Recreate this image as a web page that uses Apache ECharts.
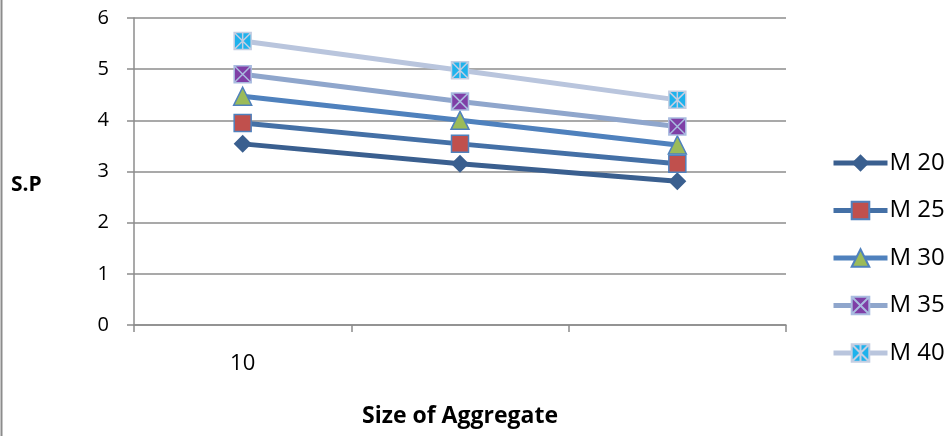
<!DOCTYPE html>
<html>
<head>
<meta charset="utf-8">
<script src="https://cdn.jsdelivr.net/npm/echarts@6/dist/echarts.min.js"></script>
<style>
  html, body { margin: 0; padding: 0; background: #fff; }
  #chart { width: 947px; height: 436px; }
</style>
</head>
<body>
<div id="chart"></div>
<script>
// Aggregate size categories (only the first one carries a label)
const categories = ['10', '', ''];
const seriesNames = ['M 20', 'M 25', 'M 30', 'M 35', 'M 40'];
const m20 = [3.54, 3.15, 2.81];
const m25 = [3.95, 3.54, 3.15];
const m30 = [4.47, 4.00, 3.52];
const m35 = [4.90, 4.37, 3.88];
const m40 = [5.55, 4.98, 4.40];
const yTicks = [0, 1, 2, 3, 4, 5, 6];

const FONT = '"Open Sans", "Noto Sans", sans-serif';

// Marker shapes
const boxCross = 'path://M0,0 L10,0 L10,10 L0,10 Z M0,0 L10,10 M10,0 L0,10';
const boxStar = 'path://M0,0 L10,0 L10,10 L0,10 Z M0,0 L10,10 M10,0 L0,10 M5,0 L5,10';

const styles = [
  { line: '#3A5F8F', symbol: 'diamond', size: 18, fill: '#3A5F8F', border: '#3A5F8F', bw: 0 },
  { line: '#4470A6', symbol: 'rect', size: 17, fill: '#C0504D', border: '#4F81BD', bw: 1.5 },
  { line: '#4F81BD', symbol: 'triangle', size: 18, fill: '#9BBB59', border: '#4F81BD', bw: 1.5 },
  { line: '#8FA6CC', symbol: boxCross, size: 17, fill: '#7F3FA6', border: '#A9BCE0', bw: 1.5 },
  { line: '#B9C5DD', symbol: boxStar, size: 17, fill: '#1EB2EC', border: '#C4CEE2', bw: 1.5 }
];
const values = [m20, m25, m30, m35, m40];

const series = seriesNames.map((name, i) => ({
  name: name,
  type: 'line',
  data: values[i],
  symbol: styles[i].symbol,
  symbolSize: styles[i].size,
  showAllSymbol: true,
  lineStyle: { color: styles[i].line, width: 5 },
  itemStyle: { color: styles[i].fill, borderColor: styles[i].border, borderWidth: styles[i].bw },
  emphasis: { disabled: true },
  z: 2 + i
}));

const chart = echarts.init(document.getElementById('chart'), null, { renderer: 'canvas' });
chart.setOption({
  animation: false,
  backgroundColor: '#ffffff',
  grid: { left: 134, right: 161, top: 18, bottom: 111, containLabel: false },
  legend: {
    orient: 'vertical',
    left: 826,
    top: 146,
    itemWidth: 54,
    itemHeight: 22,
    itemGap: 23.5,
    data: seriesNames,
    lineStyle: { width: 5 },
    textStyle: { fontFamily: FONT, fontSize: 24, color: '#000', padding: [0, 0, 0, -3] }
  },
  xAxis: {
    type: 'category',
    data: categories,
    boundaryGap: true,
    name: 'Size of Aggregate',
    nameLocation: 'middle',
    nameGap: 80,
    nameTextStyle: { fontFamily: FONT, fontSize: 23, fontWeight: 'bold', color: '#000' },
    axisLine: { lineStyle: { color: '#8c8c8c', width: 1.5 } },
    axisTick: { show: true, length: 7, alignWithLabel: false, lineStyle: { color: '#8c8c8c', width: 1.5 } },
    axisLabel: { fontFamily: FONT, fontSize: 22, color: '#000', margin: 28 },
    splitLine: { show: false }
  },
  yAxis: {
    type: 'value',
    min: yTicks[0],
    max: yTicks[yTicks.length - 1],
    interval: 1,
    axisLine: { show: true, lineStyle: { color: '#8c8c8c', width: 1.5 } },
    axisTick: { show: true, length: 7, lineStyle: { color: '#8c8c8c', width: 1.5 } },
    axisLabel: { fontFamily: FONT, fontSize: 20, color: '#000', margin: 25 },
    splitLine: { show: true, lineStyle: { color: '#8c8c8c', width: 1.5 } }
  },
  graphic: [
    { type: 'line', shape: { x1: 1.5, y1: 0, x2: 1.5, y2: 436 }, style: { stroke: '#8c8c8c', lineWidth: 2 } },
    // vertical axis title
    { type: 'text', left: 11, top: 175,
      style: { text: 'S.P', font: 'bold 21px ' + FONT, fill: '#000' } }
  ],
  series: series
});
</script>
</body>
</html>
